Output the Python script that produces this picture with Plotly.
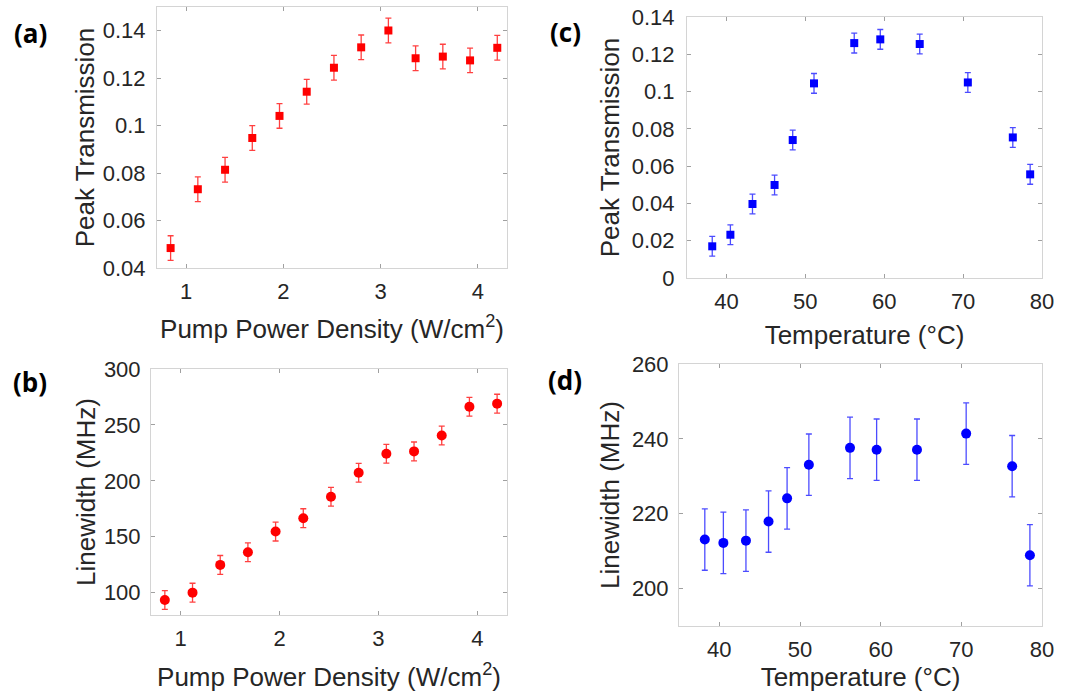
import plotly.graph_objects as go

# ---- data ----
pump_density = [0.84, 1.12, 1.40, 1.68, 1.96, 2.24, 2.52, 2.80, 3.08, 3.36, 3.64, 3.92, 4.20]
peak_trans_pump = [0.0484, 0.0732, 0.0814, 0.0948, 0.1041, 0.1143, 0.1244, 0.1330, 0.1401, 0.1284, 0.1291, 0.1275, 0.1328]
peak_trans_pump_err = [0.0052] * 13
linewidth_pump = [93.4, 100.0, 124.8, 136.1, 154.6, 166.6, 185.7, 207.2, 224.2, 226.3, 240.6, 266.3, 269.0]
linewidth_pump_err = [8.4] * 13

temperature = [38.2, 40.5, 43.3, 46.1, 48.4, 51.1, 56.2, 59.5, 64.5, 70.6, 76.3, 78.5]
peak_trans_temp = [0.0170, 0.0232, 0.0397, 0.0499, 0.0740, 0.1044, 0.1260, 0.1280, 0.1255, 0.1049, 0.0754, 0.0556]
peak_trans_temp_err = [0.0053] * 12
linewidth_temp = [213.1, 212.2, 212.8, 217.9, 224.1, 233.1, 237.6, 237.1, 237.1, 241.4, 232.7, 208.9]
linewidth_temp_err = [8.2] * 12

W, H = 1065, 698
RED = "#ff0000"
BLUE = "#0000ff"
FONT = "Liberation Sans"
TXT = "#262626"

fig = go.Figure()

def dom_x(a, b):
    return [a / W, b / W]

def dom_y(top, bottom):
    return [1 - bottom / H, 1 - top / H]

panels = [
    dict(n="", x=pump_density, y=peak_trans_pump, e=peak_trans_pump_err, c=RED, s="square", ms=8,
         xd=dom_x(157, 507), yd=dom_y(7, 268), xr=[0.7, 4.3], yr=[0.04, 0.15],
         xt=[1, 2, 3, 4], yt=[0.04, 0.06, 0.08, 0.1, 0.12, 0.14],
         ytl=["0.04", "0.06", "0.08", "0.1", "0.12", "0.14"],
         xtitle="Pump Power Density (W/cm<sup>2</sup>)", ytitle="Peak Transmission",
         xs=16, ys=0, ylsd=6),
    dict(n="2", x=pump_density, y=linewidth_pump, e=linewidth_pump_err, c=RED, s="circle", ms=10,
         xd=dom_x(151, 507), yd=dom_y(369, 615), xr=[0.7, 4.3], yr=[80, 300],
         xt=[1, 2, 3, 4], yt=[100, 150, 200, 250, 300],
         ytl=["100", "150", "200", "250", "300"],
         xtitle="Pump Power Density (W/cm<sup>2</sup>)", ytitle="Linewidth (MHz)",
         xs=17, ys=0, ylsd=5),
    dict(n="3", x=temperature, y=peak_trans_temp, e=peak_trans_temp_err, c=BLUE, s="square", ms=8,
         xd=dom_x(687, 1042), yd=dom_y(17, 278), xr=[35, 80], yr=[0, 0.14],
         xt=[40, 50, 60, 70, 80], yt=[0, 0.02, 0.04, 0.06, 0.08, 0.1, 0.12, 0.14],
         ytl=["0", "0.02", "0.04", "0.06", "0.08", "0.1", "0.12", "0.14"],
         xtitle="Temperature (°C)", ytitle="Peak Transmission",
         xs=12, ys=4, ylsd=7),
    dict(n="4", x=temperature, y=linewidth_temp, e=linewidth_temp_err, c=BLUE, s="circle", ms=10,
         xd=dom_x(679, 1042), yd=dom_y(364, 626), xr=[35, 80], yr=[190, 260],
         xt=[40, 50, 60, 70, 80], yt=[200, 220, 240, 260],
         ytl=["200", "220", "240", "260"],
         xtitle="Temperature (°C)", ytitle="Linewidth (MHz)",
         xs=5, ys=4, ylsd=5),
]

layout = {}
for p in panels:
    n = p["n"]
    rgba = "rgba(255,0,0,0.75)" if p["c"] == RED else "rgba(0,0,255,0.7)"
    fig.add_trace(go.Scatter(
        x=p["x"], y=p["y"], mode="markers",
        marker=dict(symbol=p["s"], size=p["ms"], color=p["c"], line=dict(width=0)),
        error_y=dict(type="data", array=p["e"], visible=True, color=rgba, thickness=1.3, width=3),
        xaxis="x" + n, yaxis="y" + n, showlegend=False,
    ))
    tfont = dict(family=FONT, size=22, color=TXT)
    ttl = dict(family=FONT, size=26, color=TXT)
    layout["xaxis" + n] = dict(
        domain=p["xd"], range=p["xr"], anchor="y" + n, automargin=False,
        tickvals=p["xt"], ticks="inside", ticklen=4, tickcolor="#a0a0a0",
        showline=True, linecolor="#d4d4d4", linewidth=1, mirror="ticks",
        showgrid=False, zeroline=False, tickfont=tfont, ticklabelstandoff=4,
        title=dict(text=p["xtitle"], font=ttl, standoff=p["xs"]),
    )
    layout["yaxis" + n] = dict(
        domain=p["yd"], range=p["yr"], anchor="x" + n, automargin=False,
        tickvals=p["yt"], ticktext=p["ytl"], ticks="inside", ticklen=4, tickcolor="#a0a0a0",
        showline=True, linecolor="#d4d4d4", linewidth=1, mirror="ticks",
        showgrid=False, zeroline=False, tickfont=tfont, ticklabelstandoff=p["ylsd"],
        title=dict(text=p["ytitle"], font=ttl, standoff=p["ys"]),
    )

labels = [("(a)", 30, 33), ("(b)", 30, 382), ("(c)", 565, 32), ("(d)", 565, 380)]
annotations = [
    dict(text="<b>%s</b>" % t, x=x / W, y=1 - y / H, xref="paper", yref="paper",
         showarrow=False, xanchor="center", yanchor="middle",
         font=dict(family="Open Sans", size=26, color="black"))
    for t, x, y in labels
]

fig.update_layout(
    template="none",
    width=W, height=H, margin=dict(l=0, r=0, t=0, b=0),
    paper_bgcolor="white", plot_bgcolor="white",
    annotations=annotations, **layout,
)

fig.write_html(
    "out.html",
    config={"displayModeBar": False},
    post_script="document.body.style.margin='0';document.body.style.overflow='hidden';",
)
